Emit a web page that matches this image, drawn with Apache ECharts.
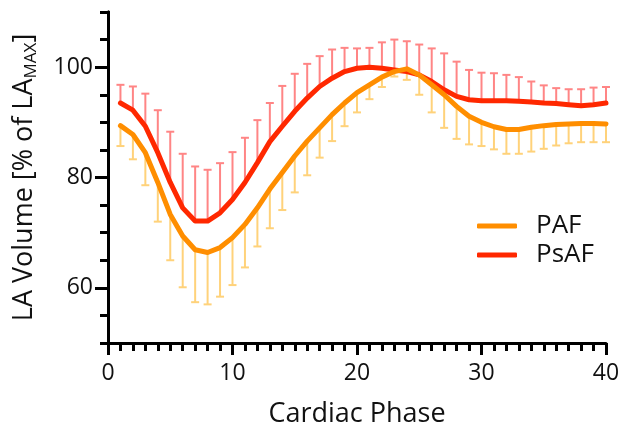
<!DOCTYPE html>
<html>
<head>
<meta charset="utf-8">
<script src="https://cdn.jsdelivr.net/npm/echarts@6/dist/echarts.min.js"></script>
<style>
  html, body { margin: 0; padding: 0; background: #fff; }
  #chart { width: 619px; height: 427px; }
</style>
</head>
<body>
<div id="chart"></div>
<script>
  // cardiac phases 1..40
  var phases = [1, 2, 3, 4, 5, 6, 7, 8, 9, 10, 11, 12, 13, 14, 15, 16, 17, 18, 19, 20,
    21, 22, 23, 24, 25, 26, 27, 28, 29, 30, 31, 32, 33, 34, 35, 36, 37, 38, 39, 40]

  // PAF mean and lower end of error bar
  var pafMean = [89.4, 87.8, 84.5, 79.1, 73.3, 69.4, 66.9, 66.4, 67.3, 69.1,
    71.5, 74.5, 77.9, 80.9, 83.9, 86.6, 89.0, 91.4, 93.5, 95.4,
    96.8, 98.2, 99.2, 99.7, 98.6, 96.8, 95.0, 92.9, 91.1, 90.0,
    89.2, 88.7, 88.7, 89.1, 89.4, 89.6, 89.7, 89.8, 89.8, 89.7]
  var pafLow = [85.7, 83.3, 78.6, 72.0, 65.0, 60.1, 57.4, 57.0, 58.4, 60.5,
    63.7, 67.5, 70.8, 74.1, 77.3, 80.4, 83.6, 86.6, 89.3, 91.8,
    94.2, 96.4, 98.3, 97.7, 95.0, 91.8, 89.0, 87.0, 86.0, 85.7,
    85.1, 84.3, 84.3, 84.7, 85.2, 85.8, 86.2, 86.4, 86.4, 86.4]

  // PsAF mean and upper end of error bar
  var psafMean = [93.5, 92.2, 89.3, 84.5, 79.1, 74.5, 72.1, 72.1, 73.6, 76.0,
    79.1, 82.7, 86.5, 89.3, 92.0, 94.4, 96.5, 98.0, 99.2, 99.8,
    100.0, 99.8, 99.5, 99.2, 98.6, 97.4, 95.9, 94.7, 94.1, 93.9,
    93.9, 93.9, 93.8, 93.7, 93.5, 93.4, 93.2, 93.0, 93.2, 93.5]
  var psafHigh = [96.8, 96.5, 95.2, 92.2, 88.3, 84.3, 82.0, 81.4, 82.6, 84.6,
    87.2, 90.4, 93.5, 96.6, 98.8, 100.6, 102.0, 103.2, 103.5, 103.4,
    103.5, 104.5, 105.0, 104.7, 104.1, 103.4, 102.5, 101.0, 99.5, 99.0,
    98.9, 98.6, 98.2, 97.4, 96.7, 96.2, 96.0, 96.0, 96.3, 96.4]

  var yTicks = [60, 80, 100]

  var font = 'Open Sans'
  var pafColor = '#ff8e00'
  var psafColor = '#ff2800'
  var pafBar = '#ffd27a'
  var psafBar = '#ff8585'

  function pairs (a, b) {
    var out = []
    for (var i = 0; i < phases.length; i++) {
      out.push(b ? [phases[i], a[i], b[i]] : [phases[i], a[i]])
    }
    return out
  }

  function errorBars (color) {
    return function (params, api) {
      var p0 = api.coord([api.value(0), api.value(1)])
      var p1 = api.coord([api.value(0), api.value(2)])
      var st = { stroke: color, lineWidth: 2 }
      return {
        type: 'group',
        children: [
          { type: 'line', shape: { x1: p0[0], y1: p0[1], x2: p1[0], y2: p1[1] }, style: st },
          { type: 'line', shape: { x1: p1[0] - 4, y1: p1[1], x2: p1[0] + 4, y2: p1[1] }, style: st }
        ]
      }
    }
  }

  var axisCol = { color: '#000', width: 3 }

  var chart = echarts.init(document.getElementById('chart'))
  chart.setOption({
    animation: false,
    textStyle: { fontFamily: font },
    grid: { left: 108, right: 13, top: 12, bottom: 84, outerBoundsMode: 'none', containLabel: false },
    legend: {
      data: ['PAF', 'PsAF'],
      orient: 'vertical',
      left: 472,
      top: 208,
      itemWidth: 40,
      itemHeight: 5,
      itemGap: 3,
      icon: 'roundRect',
      formatter: function (n) { return '{t|' + n + '}' },
      textStyle: {
        fontFamily: font,
        fontSize: 26,
        lineHeight: 26,
        color: '#111',
        rich: { t: { fontFamily: font, fontSize: 26, lineHeight: 26, color: '#111', padding: [0, 0, 0, 14] } }
      }
    },
    xAxis: {
      type: 'value',
      min: 0,
      max: 40,
      interval: 10,
      name: 'Cardiac Phase',
      nameLocation: 'middle',
      nameGap: 55,
      nameTextStyle: { fontFamily: font, fontSize: 27, lineHeight: 32, color: '#111' },
      axisLine: { lineStyle: axisCol },
      axisTick: { length: 12, lineStyle: axisCol },
      minorTick: { show: true, splitNumber: 10, length: 8, lineStyle: axisCol },
      axisLabel: { fontFamily: font, fontSize: 23, color: '#111', margin: 19 },
      splitLine: { show: false }
    },
    yAxis: [{
      // minor ticks every 5
      type: 'value',
      min: 50,
      max: 110,
      interval: 5,
      position: 'left',
      axisLine: { show: true, lineStyle: axisCol },
      axisTick: { show: true, length: 8, lineStyle: axisCol },
      axisLabel: { show: false },
      splitLine: { show: false }
    }, {
      // labelled ticks
      type: 'value',
      min: 50,
      max: 110,
      position: 'left',
      name: '{a|LA Volume [% of LA}{s|MAX}{a|]}',
      nameLocation: 'middle',
      nameRotate: 90,
      nameGap: 68,
      nameTextStyle: {
        rich: {
          a: { fontFamily: font, fontSize: 27, color: '#111', lineHeight: 32 },
          s: { fontFamily: font, fontSize: 17, color: '#111', lineHeight: 32, verticalAlign: 'bottom', padding: [12, 0, 0, 0] }
        }
      },
      axisLine: { show: true, lineStyle: axisCol },
      axisTick: { show: true, length: 13, customValues: yTicks, lineStyle: axisCol },
      axisLabel: { fontFamily: font, fontSize: 23, color: '#111', margin: 15, customValues: yTicks },
      splitLine: { show: false }
    }],
    series: [{
      name: 'PsAF err',
      type: 'custom',
      renderItem: errorBars(psafBar),
      data: pairs(psafMean, psafHigh),
      z: 1
    }, {
      name: 'PAF err',
      type: 'custom',
      renderItem: errorBars(pafBar),
      data: pairs(pafMean, pafLow),
      z: 1
    }, {
      name: 'PsAF',
      type: 'line',
      data: pairs(psafMean),
      showSymbol: false,
      color: psafColor,
      lineStyle: { width: 5, color: psafColor, cap: 'round', join: 'round' },
      z: 3
    }, {
      name: 'PAF',
      type: 'line',
      data: pairs(pafMean),
      showSymbol: false,
      color: pafColor,
      lineStyle: { width: 5, color: pafColor, cap: 'round', join: 'round' },
      z: 4
    }]
  })
</script>
</body>
</html>
